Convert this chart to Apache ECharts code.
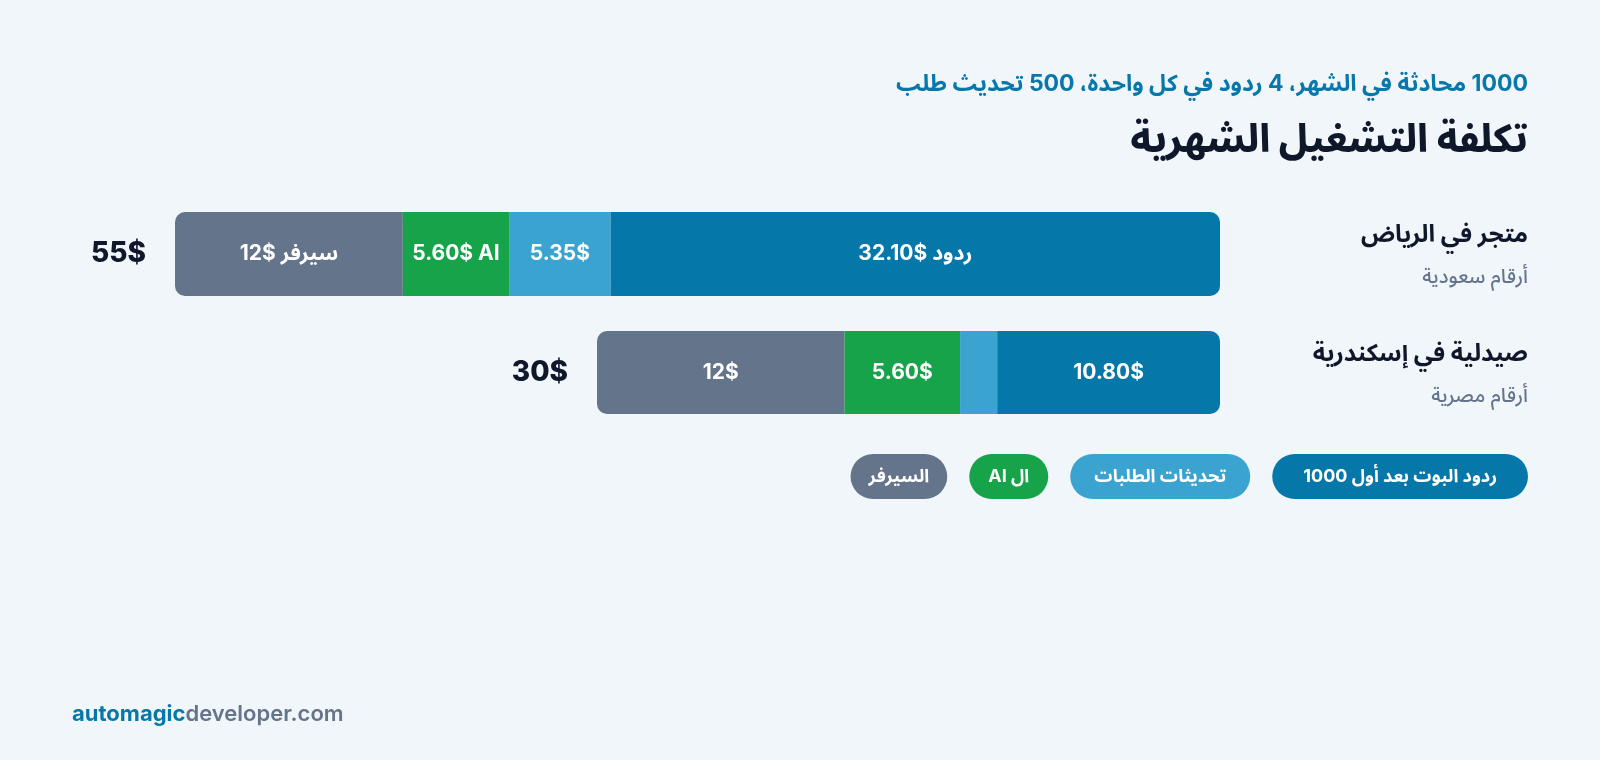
<!DOCTYPE html>
<html lang="ar">
<head>
<meta charset="utf-8">
<script src="https://cdn.jsdelivr.net/npm/echarts@6/dist/echarts.min.js"></script>
<style>
  html, body { margin: 0; padding: 0; background: #f1f6fb; }
  #chart { width: 1600px; height: 760px; direction: rtl; }
</style>
</head>
<body>
<div id="chart" dir="rtl"></div>
<script>
// ---- data ----
const titleText = 'تكلفة التشغيل الشهرية';
const subtitleText = '1000 محادثة في الشهر، 4 ردود في كل واحدة، 500 تحديث طلب';
const categories = ['متجر في الرياض', 'صيدلية في إسكندرية'];
const subLabels = ['أرقام سعودية', 'أرقام مصرية'];
const seriesNames = ['ردود البوت بعد أول 1000', 'تحديثات الطلبات', 'ال AI', 'السيرفر'];
const replies = [32.10, 10.80];
const updates = [5.35, 1.80];
const aiCost = [5.60, 5.60];
const server = [12, 12];
const repliesLabels = ['ردود $32.10', '10.80$'];
const updatesLabels = ['5.35$', ''];
const aiLabels = ['AI\u200F 5.60$', '5.60$'];
const serverLabels = ['سيرفر $12', '12$'];
const totalLabels = ['55$', '30$'];

// ---- styles ----
const FONT = "Inter, 'Noto Sans Arabic', 'Noto Sans', 'DejaVu Sans', sans-serif";
const colors = ['#0677a9', '#3aa3d0', '#16a34a', '#64748b'];
const legendPadX = [31, 24, 19, 18];
const grids = [
  { left: 175, right: 380, top: 212, height: 84 },
  { left: 597, right: 380, top: 331, height: 83 }
];

const chart = echarts.init(document.getElementById('chart'), null, { renderer: 'canvas' });

// segments drawn left to right: server, AI, updates, replies
const segs = [
  { k: 3, vals: server, labels: serverLabels, radius: [10, 0, 0, 10] },
  { k: 2, vals: aiCost, labels: aiLabels, radius: 0 },
  { k: 1, vals: updates, labels: updatesLabels, radius: 0 },
  { k: 0, vals: replies, labels: repliesLabels, radius: [0, 10, 10, 0] }
];

const sums = categories.map((c, i) => replies[i] + updates[i] + aiCost[i] + server[i]);

const series = [];
categories.forEach((c, i) => {
  segs.forEach(s => {
    series.push({
      type: 'bar',
      name: seriesNames[s.k],
      xAxisIndex: i,
      yAxisIndex: i,
      stack: 'row' + i,
      barWidth: '100%',
      silent: true,
      data: [s.vals[i]],
      itemStyle: { color: colors[s.k], borderRadius: s.radius },
      label: {
        show: true,
        position: 'inside',
        formatter: s.labels[i],
        color: '#ffffff',
        fontSize: 21,
        fontWeight: 700,
        fontFamily: FONT
      }
    });
  });
});

const option = {
  backgroundColor: '#f1f6fb',
  animation: false,
  textStyle: { fontFamily: FONT },
  grid: grids,
  xAxis: categories.map((c, i) => ({
    type: 'value', gridIndex: i, min: 0, max: sums[i], show: false
  })),
  yAxis: categories.map((c, i) => ({
    type: 'category',
    gridIndex: i,
    data: [c],
    position: 'right',
    axisLine: { show: false },
    axisTick: { show: false },
    splitLine: { show: false },
    axisLabel: {
      margin: 308,
      align: 'right',
      padding: [4, 0, 0, 0],
      formatter: v => '{n|' + v + '}\n{s|' + subLabels[categories.indexOf(v)] + '}',
      rich: {
        n: { fontSize: 24, fontWeight: 700, color: '#0f172a', lineHeight: 42, fontFamily: FONT, align: 'right' },
        s: { fontSize: 20, fontWeight: 500, color: '#64748b', lineHeight: 42, fontFamily: FONT, align: 'right' }
      }
    }
  })),
  legend: {
    right: 72,
    top: 454,
    padding: 0,
    itemGap: 17,
    itemWidth: 0,
    itemHeight: 0,
    selectedMode: false,
    textStyle: {
      color: '#ffffff',
      fontSize: 18,
      fontWeight: 700,
      fontFamily: FONT,
      lineHeight: 21,
      padding: [12, 20],
      borderRadius: 23
    },
    data: [3, 2, 1, 0].map(k => ({
      name: seriesNames[k],
      textStyle: { backgroundColor: colors[k], color: '#ffffff', padding: [12, legendPadX[k]] }
    }))
  },
  series: series
};

chart.setOption(option);

const graphics = [
  {
    type: 'text', x: 1528, y: 84,
    style: { text: subtitleText, align: 'right', verticalAlign: 'middle',
      fontSize: 23, fontWeight: 700, fontFamily: FONT, fill: '#0877a9' }
  },
  {
    type: 'text', x: 1528, y: 140,
    style: { text: titleText, align: 'right', verticalAlign: 'middle',
      fontSize: 38.5, fontWeight: 800, fontFamily: FONT, fill: '#0f172a' }
  },
  {
    type: 'text', x: 72, y: 714,
    style: {
      text: '{a|automagic}{b|developer.com}',
      align: 'left', verticalAlign: 'middle',
      rich: {
        a: { fontSize: 22, fontWeight: 700, fontFamily: FONT, fill: '#0677a9' },
        b: { fontSize: 22, fontWeight: 600, fontFamily: FONT, fill: '#64748b' }
      }
    }
  }
];
categories.forEach((c, i) => {
  const x = chart.convertToPixel({ xAxisIndex: i }, 0);
  const y = chart.convertToPixel({ yAxisIndex: i }, c);
  graphics.push({
    type: 'text', x: x - 29, y: y,
    style: { text: totalLabels[i], align: 'right', verticalAlign: 'middle',
      fontSize: 28, fontWeight: 800, fontFamily: FONT, fill: '#0f172a' }
  });
});
chart.setOption({ graphic: graphics });
</script>
</body>
</html>
